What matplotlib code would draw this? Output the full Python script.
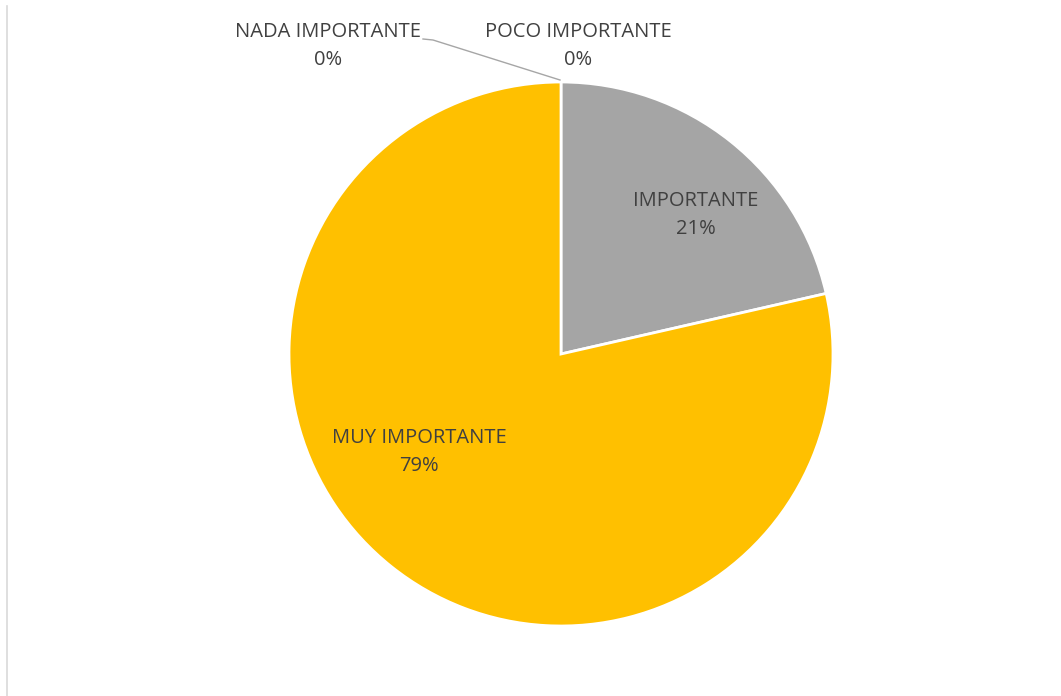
import matplotlib.pyplot as plt
from matplotlib.lines import Line2D

# data (counts that give 0%, 0%, 21%, 79%)
categories = ['NADA IMPORTANTE', 'POCO IMPORTANTE', 'IMPORTANTE', 'MUY IMPORTANTE']
values = [0, 0, 3, 11]
colors = ['#4472C4', '#ED7D31', '#A5A5A5', '#FFC000']

W, H = 1061, 696
fig = plt.figure(figsize=(W / 100, H / 100), dpi=100)
ax = fig.add_axes([0, 0, 1, 1])

# pie, clockwise from 12 o'clock like Excel
cx, cy, r = 561, H - 354, 272
ax.pie(values, colors=colors, startangle=90, counterclock=False,
       center=(cx, cy), radius=r, frame=True,
       wedgeprops=dict(edgecolor='white', linewidth=2))
ax.set_xlim(0, W)
ax.set_ylim(0, H)
ax.set_aspect('equal')
ax.axis('off')

# chart-area border on the left
fig.add_artist(Line2D([7 / W, 7 / W], [0, 1 - 6 / H], color='#D9D9D9', lw=1.2))

# data labels
label_pos = {
    'NADA IMPORTANTE': (328, 32),
    'POCO IMPORTANTE': (578, 32),
    'IMPORTANTE': (696, 201),
    'MUY IMPORTANTE': (419, 438),
}
total = sum(values)
for cat, v in zip(categories, values):
    x, y = label_pos[cat]
    ax.text(x, H - y, cat, ha='center', va='center', fontsize=14.5,
            family='Open Sans', color='#404040')
    ax.text(x, H - y - 28, f'{round(100 * v / total)}%', ha='center', va='center',
            fontsize=14.5, family='Open Sans', color='#404040')

# leader line for the zero slice
ax.plot([423, 433, 560], [H - 39, H - 40, H - 80], color='#A6A6A6', lw=1)

fig.savefig('out.png', dpi=100)
